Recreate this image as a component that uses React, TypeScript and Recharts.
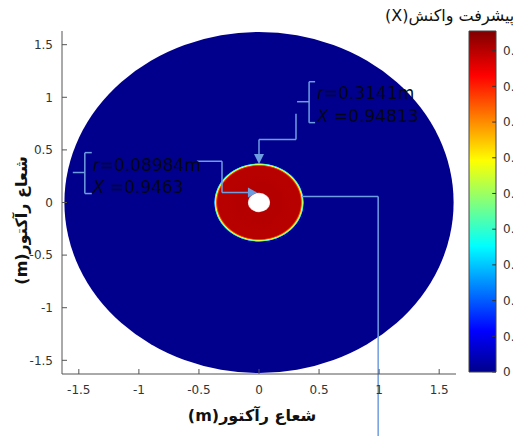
import {
	ComposedChart,
	Label,
	ReferenceArea,
	ReferenceDot,
	ReferenceLine,
	XAxis,
	YAxis,
} from "recharts";

const axisTicks = [-1.5, -1, -0.5, 0, 0.5, 1, 1.5];
const colorTicks = [0, 0.1, 0.2, 0.3, 0.4, 0.5, 0.6, 0.7, 0.8, 0.9];

const reactorRadius = 1.62;
const reactedRadius = 0.375;
const holeRadius = 0.092;
const colorMax = 0.955;

const upperBracket = [
	{ x: 0.467, y: 1.148 },
	{ x: 0.417, y: 1.148 },
	{ x: 0.417, y: 0.759 },
	{ x: 0.467, y: 0.759 },
];
const upperTick = [
	{ x: 0.317, y: 0.958 },
	{ x: 0.417, y: 0.958 },
];
const upperLeader = [
	{ x: 0.308, y: 0.844 },
	{ x: 0.308, y: 0.598 },
	{ x: 0, y: 0.598 },
	{ x: 0, y: 0.45 },
];
const lowerBracket = [
	{ x: -1.392, y: 0.474 },
	{ x: -1.45, y: 0.474 },
	{ x: -1.45, y: 0.085 },
	{ x: -1.392, y: 0.085 },
];
const lowerTick = [
	{ x: -1.55, y: 0.285 },
	{ x: -1.45, y: 0.285 },
];
const lowerLeader = [
	{ x: -0.517, y: 0.392 },
	{ x: -0.308, y: 0.392 },
	{ x: -0.308, y: 0.095 },
	{ x: -0.09, y: 0.095 },
];
const sideLeader = [
	{ x: 0.358, y: 0.057 },
	{ x: 0.992, y: 0.057 },
	{ x: 0.992, y: -2.3 },
];

const arrows = [
	{ x: 0, y: 0.367, dir: "down" },
	{ x: -0.017, y: 0.095, dir: "right" },
];

const notes = [
	{ x: 0.483, y: 0.987, name: "r", value: "=0.3141m" },
	{ x: 0.483, y: 0.768, name: "X", value: " =0.94813" },
	{ x: -1.383, y: 0.304, name: "r", value: "=0.08984m" },
	{ x: -1.383, y: 0.095, name: "X", value: " =0.9463" },
];

const noteColor = "#6f9ee0";
const font = "'DejaVu Sans', sans-serif";

function segments(points: { x: number; y: number }[]) {
	return points.slice(1).map((p, i) => [points[i], p]);
}

function Ellipse(props: any, fill: string) {
	const { x, y, width, height } = props;
	return (
		<ellipse
			cx={x + width / 2}
			cy={y + height / 2}
			fill={fill}
			rx={width / 2}
			ry={height / 2}
		/>
	);
}

function Arrow(props: any) {
	const { cx, cy, payload } = props;
	const pts =
		payload === "down"
			? `${cx},${cy} ${cx - 5},${cy - 10} ${cx + 5},${cy - 10}`
			: `${cx},${cy} ${cx - 9},${cy - 5} ${cx - 9},${cy + 5}`;
	return <polygon fill={noteColor} points={pts} />;
}

function Note(props: any) {
	const { cx, cy, payload } = props;
	return (
		<text fill="#05051a" fontFamily={font} fontSize={17} x={cx} y={cy}>
			<tspan fontStyle="italic">{payload.name}</tspan>
			{payload.value}
		</text>
	);
}

function drawLines(points: { x: number; y: number }[], key: string) {
	return segments(points).map((seg, i) => (
		<ReferenceLine
			ifOverflow="visible"
			key={`${key}-${i}`}
			segment={seg}
			stroke={noteColor}
			strokeWidth={1.5}
		/>
	));
}

export default function App() {
	return (
		<div
			style={{
				position: "absolute",
				left: 0,
				top: 0,
				width: 513,
				height: 436,
				overflow: "hidden",
				background: "#fff",
			}}
		>
			<div style={{ position: "absolute", left: 0, top: 0 }}>
				<ComposedChart
					height={436}
					margin={{ top: 31, right: 57, left: 12, bottom: 32 }}
					width={513}
				>
					<defs>
						<radialGradient id="reacted">
							<stop offset="0%" stopColor="#b30000" />
							<stop offset="92%" stopColor="#b80000" />
							<stop offset="94.5%" stopColor="#ff6000" />
							<stop offset="96%" stopColor="#ffff30" />
							<stop offset="97.8%" stopColor="#40ffc0" />
							<stop offset="99.2%" stopColor="#2080ff" />
							<stop offset="100%" stopColor="#00008c" />
						</radialGradient>
						<radialGradient id="hole">
							<stop offset="0%" stopColor="#ffffff" />
							<stop offset="88%" stopColor="#ffffff" />
							<stop offset="100%" stopColor="#f4c8c8" />
						</radialGradient>
					</defs>
					<XAxis
						allowDataOverflow
						axisLine={{ stroke: "#555" }}
						dataKey="x"
						domain={[-1.64, 1.64]}
						height={30}
						tick={{ fill: "#333", fontSize: 12, fontFamily: font }}
						tickLine={{ stroke: "#555" }}
						tickMargin={16}
						tickSize={-5}
						ticks={axisTicks}
						type="number"
					>
						<Label
							content={({ viewBox }: any) => (
								<text
									direction="rtl"
									fill="#111"
									fontFamily={font}
									fontSize={16}
									fontWeight="bold"
									textAnchor="middle"
									x={viewBox.x + viewBox.width / 2 - 7}
									y={viewBox.y + 47}
								>
									شعاع رآکتور(m)
								</text>
							)}
						/>
					</XAxis>
					<XAxis
						allowDataOverflow
						axisLine={{ stroke: "#555" }}
						domain={[-1.64, 1.64]}
						height={0}
						orientation="top"
						tick={{ fill: "none" }}
						tickLine={{ stroke: "#555" }}
						tickSize={-5}
						ticks={axisTicks}
						type="number"
						xAxisId="top"
					/>
					<YAxis
						allowDataOverflow
						axisLine={{ stroke: "#555" }}
						domain={[-1.63, 1.63]}
						tick={{ fill: "#333", fontSize: 12, fontFamily: font }}
						tickLine={{ stroke: "#555" }}
						tickMargin={14}
						tickSize={-5}
						ticks={axisTicks}
						type="number"
						width={50}
					>
						<Label
							content={({ viewBox }: any) => {
								const cx = viewBox.x + 10;
								const cy = viewBox.y + viewBox.height / 2 + 18;
								return (
									<text
										direction="rtl"
										fill="#111"
										fontFamily={font}
										fontSize={16}
										fontWeight="bold"
										textAnchor="middle"
										transform={`rotate(-90 ${cx} ${cy})`}
										x={cx}
										y={cy + 5}
									>
										شعاع رآکتور(m)
									</text>
								);
							}}
						/>
					</YAxis>
					<YAxis
						allowDataOverflow
						axisLine={{ stroke: "#555" }}
						domain={[-1.63, 1.63]}
						orientation="right"
						tick={{ fill: "none" }}
						tickLine={{ stroke: "#555" }}
						tickSize={-5}
						ticks={axisTicks}
						type="number"
						width={0}
						yAxisId="right"
					/>
					<ReferenceArea
						fillOpacity={1}
						shape={(p: any) => Ellipse(p, "#00008c")}
						x1={-reactorRadius}
						x2={reactorRadius}
						y1={-reactorRadius}
						y2={reactorRadius}
					/>
					<ReferenceArea
						shape={(p: any) => Ellipse(p, "url(#reacted)")}
						x1={-reactedRadius}
						x2={reactedRadius}
						y1={-reactedRadius}
						y2={reactedRadius}
					/>
					<ReferenceArea
						shape={(p: any) => Ellipse(p, "url(#hole)")}
						x1={-holeRadius}
						x2={holeRadius}
						y1={-holeRadius}
						y2={holeRadius}
					/>
					{drawLines(upperBracket, "ub")}
					{drawLines(upperTick, "ut")}
					{drawLines(upperLeader, "ul")}
					{drawLines(lowerBracket, "lb")}
					{drawLines(lowerTick, "lt")}
					{drawLines(lowerLeader, "ll")}
					{drawLines(sideLeader, "sl")}
					{arrows.map((a, i) => (
						<ReferenceDot
							key={`a${i}`}
							shape={(p: any) => Arrow({ ...p, payload: a.dir })}
							x={a.x}
							y={a.y}
						/>
					))}
					{notes.map((n, i) => (
						<ReferenceDot
							key={`n${i}`}
							shape={(p: any) => Note({ ...p, payload: n })}
							x={n.x}
							y={n.y}
						/>
					))}
				</ComposedChart>
			</div>
			<div style={{ position: "absolute", left: 0, top: 0 }}>
				<ComposedChart
					height={436}
					margin={{ top: 31, right: 0, left: 469, bottom: 64 }}
					width={513}
				>
					<defs>
						<linearGradient id="jet" x1="0" x2="0" y1="1" y2="0">
							<stop offset="0%" stopColor="#00008c" />
							<stop offset="12%" stopColor="#0000ff" />
							<stop offset="37%" stopColor="#00ffff" />
							<stop offset="62%" stopColor="#ffff00" />
							<stop offset="87%" stopColor="#ff0000" />
							<stop offset="100%" stopColor="#800000" />
						</linearGradient>
					</defs>
					<XAxis
						allowDataOverflow
						axisLine={false}
						dataKey="x"
						domain={[0, 1]}
						height={0}
						tick={false}
						tickLine={false}
						type="number"
					/>
					<YAxis
						allowDataOverflow
						axisLine={false}
						domain={[0, colorMax]}
						orientation="right"
						tick={{ fill: "#333", fontSize: 12, fontFamily: font }}
						tickLine={false}
						tickMargin={7}
						tickSize={0}
						ticks={colorTicks}
						type="number"
						width={17}
					>
						<Label
							content={({ viewBox }: any) => (
								<text
									direction="rtl"
									fill="#111"
									fontFamily={font}
									fontSize={16}
									textAnchor="end"
									x={viewBox.x - 111}
									y={viewBox.y - 10}
								>
									پیشرفت واکنش(X)
								</text>
							)}
						/>
					</YAxis>
					<ReferenceArea
						fill="url(#jet)"
						fillOpacity={1}
						ifOverflow="visible"
						stroke="#444"
						x1={0}
						x2={1}
						y1={0}
						y2={colorMax}
					/>
					{colorTicks.map((t) => (
						<ReferenceLine
							key={`ct${t}`}
							ifOverflow="visible"
							segment={[
								{ x: 0.86, y: t },
								{ x: 1, y: t },
							]}
							stroke="#333"
						/>
					))}
				</ComposedChart>
			</div>
		</div>
	);
}
